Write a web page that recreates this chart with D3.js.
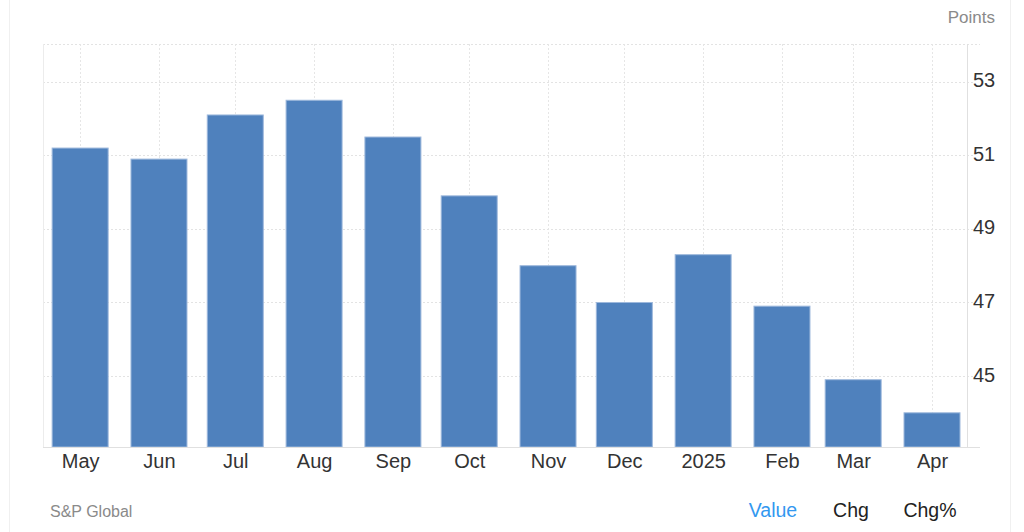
<!DOCTYPE html>
<html>
<head>
<meta charset="utf-8">
<script src="https://cdn.jsdelivr.net/npm/d3@7"></script>
<style>
  html, body { margin: 0; padding: 0; background: #fff; }
  svg { display: block; font-family: "Liberation Sans", Arial, sans-serif; }
</style>
</head>
<body>
<svg id="chart" width="1024" height="532"></svg>
<script>
const dates = ["2024-05-01", "2024-06-01", "2024-07-01", "2024-08-01", "2024-09-01", "2024-10-01",
               "2024-11-01", "2024-12-01", "2025-01-01", "2025-02-01", "2025-03-01", "2025-04-01"];
const categories = ["May", "Jun", "Jul", "Aug", "Sep", "Oct", "Nov", "Dec", "2025", "Feb", "Mar", "Apr"];
const values = [51.2, 50.9, 52.1, 52.5, 51.5, 49.9, 48.0, 47.0, 48.3, 46.9, 44.9, 44.0];
const yTicks = [45, 47, 49, 51, 53];
const unitLabel = "Points";
const sourceLabel = "S&P Global";
const tabLabels = ["Value", "Chg", "Chg%"];

const parse = d3.utcParse("%Y-%m-%d");
const svg = d3.select("#chart");
const plot = { left: 43, right: 967, top: 44, bottom: 447 };
const barWidth = 56;

// container border
svg.append("line").attr("x1", 9.5).attr("x2", 9.5).attr("y1", 0).attr("y2", 532)
  .attr("stroke", "#f0f0f0");
svg.append("line").attr("x1", 1010.5).attr("x2", 1010.5).attr("y1", 0).attr("y2", 532)
  .attr("stroke", "#f0f0f0");

const x = d3.scaleUtc()
  .domain([parse(dates[0]), parse(dates[dates.length - 1])])
  .range([80.15, 932]);
const y = d3.scaleLinear().domain([43.07, 54.03]).range([plot.bottom, plot.top]);
const cx = i => x(parse(dates[i]));

// horizontal grid
svg.append("g").selectAll("line").data(yTicks).join("line")
  .attr("x1", plot.left).attr("x2", 973)
  .attr("y1", d => Math.round(y(d)) + 0.5).attr("y2", d => Math.round(y(d)) + 0.5)
  .attr("stroke", "#e3e3e3").attr("stroke-dasharray", "2,2");
// top grid
svg.append("line").attr("x1", plot.left).attr("x2", 980)
  .attr("y1", plot.top + 0.5).attr("y2", plot.top + 0.5)
  .attr("stroke", "#e3e3e3").attr("stroke-dasharray", "2,2");

// vertical grid at month positions
svg.append("g").selectAll("line").data(dates).join("line")
  .attr("x1", (d, i) => Math.round(cx(i)) + 0.5)
  .attr("x2", (d, i) => Math.round(cx(i)) + 0.5)
  .attr("y1", plot.top).attr("y2", plot.bottom)
  .attr("stroke", "#e6e6e6").attr("stroke-dasharray", "2,2");

// frame lines
svg.append("line").attr("x1", plot.left + 0.5).attr("x2", plot.left + 0.5)
  .attr("y1", plot.top).attr("y2", plot.bottom).attr("stroke", "#ececec");
svg.append("line").attr("x1", plot.right + 0.5).attr("x2", plot.right + 0.5)
  .attr("y1", plot.top).attr("y2", plot.bottom).attr("stroke", "#e0e0e0");

// bars
svg.append("g").selectAll("rect").data(values).join("rect")
  .attr("x", (d, i) => cx(i) - barWidth / 2)
  .attr("width", barWidth)
  .attr("y", d => y(d))
  .attr("height", d => plot.bottom - y(d))
  .attr("fill", "#4f81bd")
  .attr("stroke", "#9db8dc").attr("stroke-width", 1);

// bottom axis line
svg.append("line").attr("x1", plot.left).attr("x2", 980)
  .attr("y1", plot.bottom + 0.5).attr("y2", plot.bottom + 0.5).attr("stroke", "#e0e0e0");

// x axis labels
const xAxis = d3.axisBottom(x)
  .tickValues(dates.map(parse))
  .tickFormat((d, i) => categories[i])
  .tickSize(0).tickPadding(0);
const gx = svg.append("g").attr("transform", `translate(0,${plot.bottom})`).call(xAxis);
gx.select(".domain").remove();
gx.selectAll("text").attr("dy", null).attr("y", 21)
  .attr("font-size", 20).attr("fill", "#333").attr("font-family", "Liberation Sans, Arial, sans-serif");

// y axis labels
const yAxis = d3.axisRight(y).tickValues(yTicks).tickSize(0).tickPadding(0);
const gy = svg.append("g").attr("transform", `translate(973,0)`).call(yAxis);
gy.select(".domain").remove();
gy.selectAll("text").attr("dy", null).attr("y", 5).attr("x", 0)
  .attr("font-size", 20).attr("fill", "#333").attr("font-family", "Liberation Sans, Arial, sans-serif");

// unit label
svg.append("text").attr("x", 995).attr("y", 23).attr("text-anchor", "end")
  .attr("font-size", 17).attr("fill", "#8a8a8a").text(unitLabel);

// source
svg.append("text").attr("x", 50).attr("y", 517)
  .attr("font-size", 16).attr("fill", "#8a8a8a").text(sourceLabel);

// tabs
const tabX = [773, 851, 930];
svg.append("g").selectAll("text").data(tabLabels).join("text")
  .attr("x", (d, i) => tabX[i]).attr("y", 517).attr("text-anchor", "middle")
  .attr("font-size", 19.5)
  .attr("fill", (d, i) => i === 0 ? "#3398f0" : "#222")
  .text(d => d);
</script>
</body>
</html>
